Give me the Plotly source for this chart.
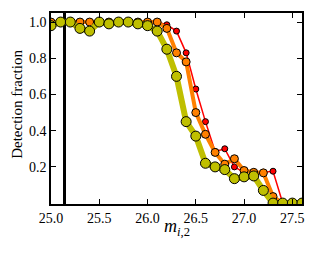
import plotly.graph_objects as go

mag = [25.0, 25.1, 25.2, 25.3, 25.4, 25.5, 25.6, 25.7, 25.8, 25.9,
       26.0, 26.1, 26.2, 26.3, 26.4, 26.5, 26.6, 26.7, 26.8, 26.9,
       27.0, 27.1, 27.2, 27.3, 27.4, 27.5, 27.6]

frac_yellow = [0.98, 1.0, 1.0, 0.965, 0.95, 1.0, 0.99, 1.0, 1.0, 0.99,
               0.98, 0.95, 0.85, 0.70, 0.45, 0.37, 0.22, 0.20, 0.185, 0.135,
               0.145, 0.15, 0.07, 0.0, 0.0, 0.0, 0.0]

frac_orange = [1.0, 1.0, 1.0, 1.0, 1.0, 1.0, 1.0, 1.0, 1.0, 1.0,
               1.0, 1.0, 0.965, 0.83, 0.78, 0.50, 0.38, 0.28, 0.215, 0.245,
               0.18, 0.17, 0.167, 0.036, 0.0, 0.0, 0.0]

frac_red = [1.0, 1.0, 1.0, 1.0, 1.0, 1.0, 1.0, 1.0, 1.0, 1.0,
            1.0, 1.0, 0.985, 0.95, 0.83, 0.63, 0.45, 0.285, 0.30, 0.20,
            0.17, 0.17, 0.17, 0.176, 0.0, 0.0, 0.0]

limit_mag = 25.14

x_ticks = [25.0, 25.5, 26.0, 26.5, 27.0, 27.5]
y_ticks = [0.2, 0.4, 0.6, 0.8, 1.0]

FONT = "Liberation Serif, DejaVu Serif, serif"

fig = go.Figure()

fig.add_trace(go.Scatter(
    x=[limit_mag, limit_mag], y=[-0.1, 1.2], mode="lines",
    line=dict(color="black", width=3), showlegend=False, hoverinfo="skip"))

fig.add_trace(go.Scatter(
    x=mag, y=frac_red, mode="lines+markers",
    line=dict(color="#ff0000", width=1.5),
    marker=dict(color="#ff0000", size=6, line=dict(color="black", width=1)),
    showlegend=False))

fig.add_trace(go.Scatter(
    x=mag, y=frac_orange, mode="lines+markers",
    line=dict(color="#ff8000", width=4),
    marker=dict(color="#ff8000", size=8, line=dict(color="black", width=1)),
    showlegend=False))

fig.add_trace(go.Scatter(
    x=mag, y=frac_yellow, mode="lines+markers",
    line=dict(color="#bfbf00", width=6),
    marker=dict(color="#bfbf00", size=10, line=dict(color="black", width=1)),
    showlegend=False))

axis_common = dict(
    showline=True, linecolor="black", linewidth=1.5, mirror="ticks",
    ticks="inside", ticklen=5, tickcolor="black", tickwidth=1,
    showgrid=False, zeroline=False, automargin=False,
    tickfont=dict(family=FONT, size=14, color="black"),
)

fig.update_xaxes(range=[25.0, 27.6], tickvals=x_ticks,
                 ticktext=[f"{v:.1f}" for v in x_ticks], **axis_common)
fig.update_yaxes(range=[-0.005, 1.05], tickvals=y_ticks,
                 ticktext=[f"{v:.1f}" for v in y_ticks], **axis_common)

fig.add_annotation(text="<i>m</i><sub><i>i</i>,2</sub>", xref="paper", yref="paper",
                   x=0.5, y=-0.125, xanchor="center", yanchor="middle", showarrow=False,
                   font=dict(family=FONT, size=18, color="black"))
fig.add_annotation(text="Detection fraction", xref="paper", yref="paper",
                   x=-0.135, y=0.52, xanchor="center", yanchor="middle", showarrow=False,
                   textangle=-90, font=dict(family=FONT, size=15, color="black"))

fig.update_layout(
    width=318, height=253,
    margin=dict(l=51, r=16, t=13, b=49),
    plot_bgcolor="white", paper_bgcolor="white",
    font=dict(family=FONT),
)

fig.write_html("out.html", config={"displayModeBar": False},
               post_script="document.body.style.margin='0';")
